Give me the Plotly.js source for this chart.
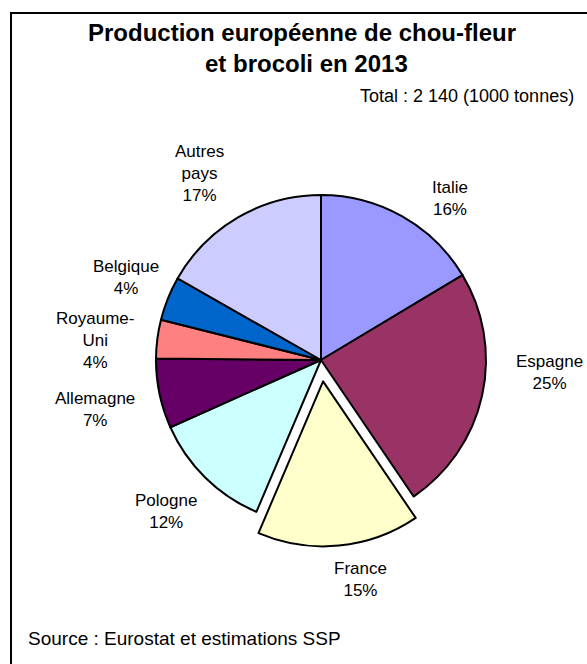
<!DOCTYPE html>
<html>
<head>
<meta charset="utf-8">
<script src="https://cdn.plot.ly/plotly-3.0.1.min.js"></script>
<style>html,body{margin:0;padding:0;background:#fff;}#chart{width:587px;height:664px;}</style>
</head>
<body>
<div id="chart"></div>
<script>
// Data (1000 tonnes, total 2 140)
var countries = ["Italie", "Espagne", "France", "Pologne", "Allemagne", "Royaume-Uni", "Belgique", "Autres pays"];
var values = [351, 516, 340, 255, 146, 81, 92, 359];
var pctLabels = ["16%", "25%", "15%", "12%", "7%", "4%", "4%", "17%"];
var labelLines = ["Italie", "Espagne", "France", "Pologne", "Allemagne", "Royaume-<br>Uni", "Belgique", "Autres<br>pays"];
var colors = ["#9999FF", "#993366", "#FFFFCC", "#CCFFFF", "#660066", "#FF8080", "#0066CC", "#CCCCFF"];
var pulls = [0, 0, 0.13, 0, 0, 0, 0, 0];

var W = 587, H = 664;
function px(x) { return x / W; }
function py(y) { return 1 - y / H; }

// label anchor positions in pixels (centers)
var labelPos = [[450, 199], [549, 372], [360, 579], [166, 511], [95, 409], [95, 340], [126, 277], [199, 174]];

var FONT = "Liberation Sans, Arial, sans-serif";
var annotations = [];
for (var i = 0; i < countries.length; i++) {
  annotations.push({
    xref: "paper", yref: "paper",
    x: px(labelPos[i][0]), y: py(labelPos[i][1]),
    xanchor: "center", yanchor: "middle",
    text: labelLines[i] + "<br>" + pctLabels[i],
    showarrow: false,
    align: "center",
    font: {family: FONT, size: 17, color: "#000"}
  });
}
annotations.push({xref: "paper", yref: "paper", x: px(302), y: py(33), xanchor: "center", yanchor: "middle",
  text: "<b>Production européenne de chou-fleur</b>", showarrow: false,
  font: {family: FONT, size: 24, color: "#000"}});
annotations.push({xref: "paper", yref: "paper", x: px(306), y: py(64), xanchor: "center", yanchor: "middle",
  text: "<b>et brocoli en 2013</b>", showarrow: false,
  font: {family: FONT, size: 24, color: "#000"}});
annotations.push({xref: "paper", yref: "paper", x: px(576), y: py(96), xanchor: "right", yanchor: "middle",
  text: "Total : 2 140 (1000 tonnes)", showarrow: false,
  font: {family: FONT, size: 18, color: "#000"}});
annotations.push({xref: "paper", yref: "paper", x: px(26), y: py(638), xanchor: "left", yanchor: "middle",
  text: "Source : Eurostat et estimations SSP", showarrow: false,
  font: {family: FONT, size: 19, color: "#000"}});

var cx = 321, cy = 360, r = 165, half = r * 1.13;

var trace = {
  type: "pie",
  labels: countries,
  values: values,
  sort: false,
  direction: "clockwise",
  rotation: 0,
  pull: pulls,
  textinfo: "none",
  hoverinfo: "label+value",
  marker: {colors: colors, line: {color: "#000", width: 2}},
  domain: {x: [px(cx - half), px(cx + half)], y: [py(cy + half), py(cy - half)]},
  showlegend: false
};

var layout = {
  width: W, height: H,
  margin: {l: 0, r: 0, t: 0, b: 0},
  paper_bgcolor: "#fff",
  showlegend: false,
  annotations: annotations,
  shapes: [{type: "rect", xref: "paper", yref: "paper", x0: px(11), x1: 1.1, y0: -0.1, y1: py(13),
    line: {color: "#000", width: 2}, fillcolor: "rgba(0,0,0,0)"}]
};

Plotly.newPlot("chart", [trace], layout, {displayModeBar: false, staticPlot: true});
</script>
</body>
</html>
